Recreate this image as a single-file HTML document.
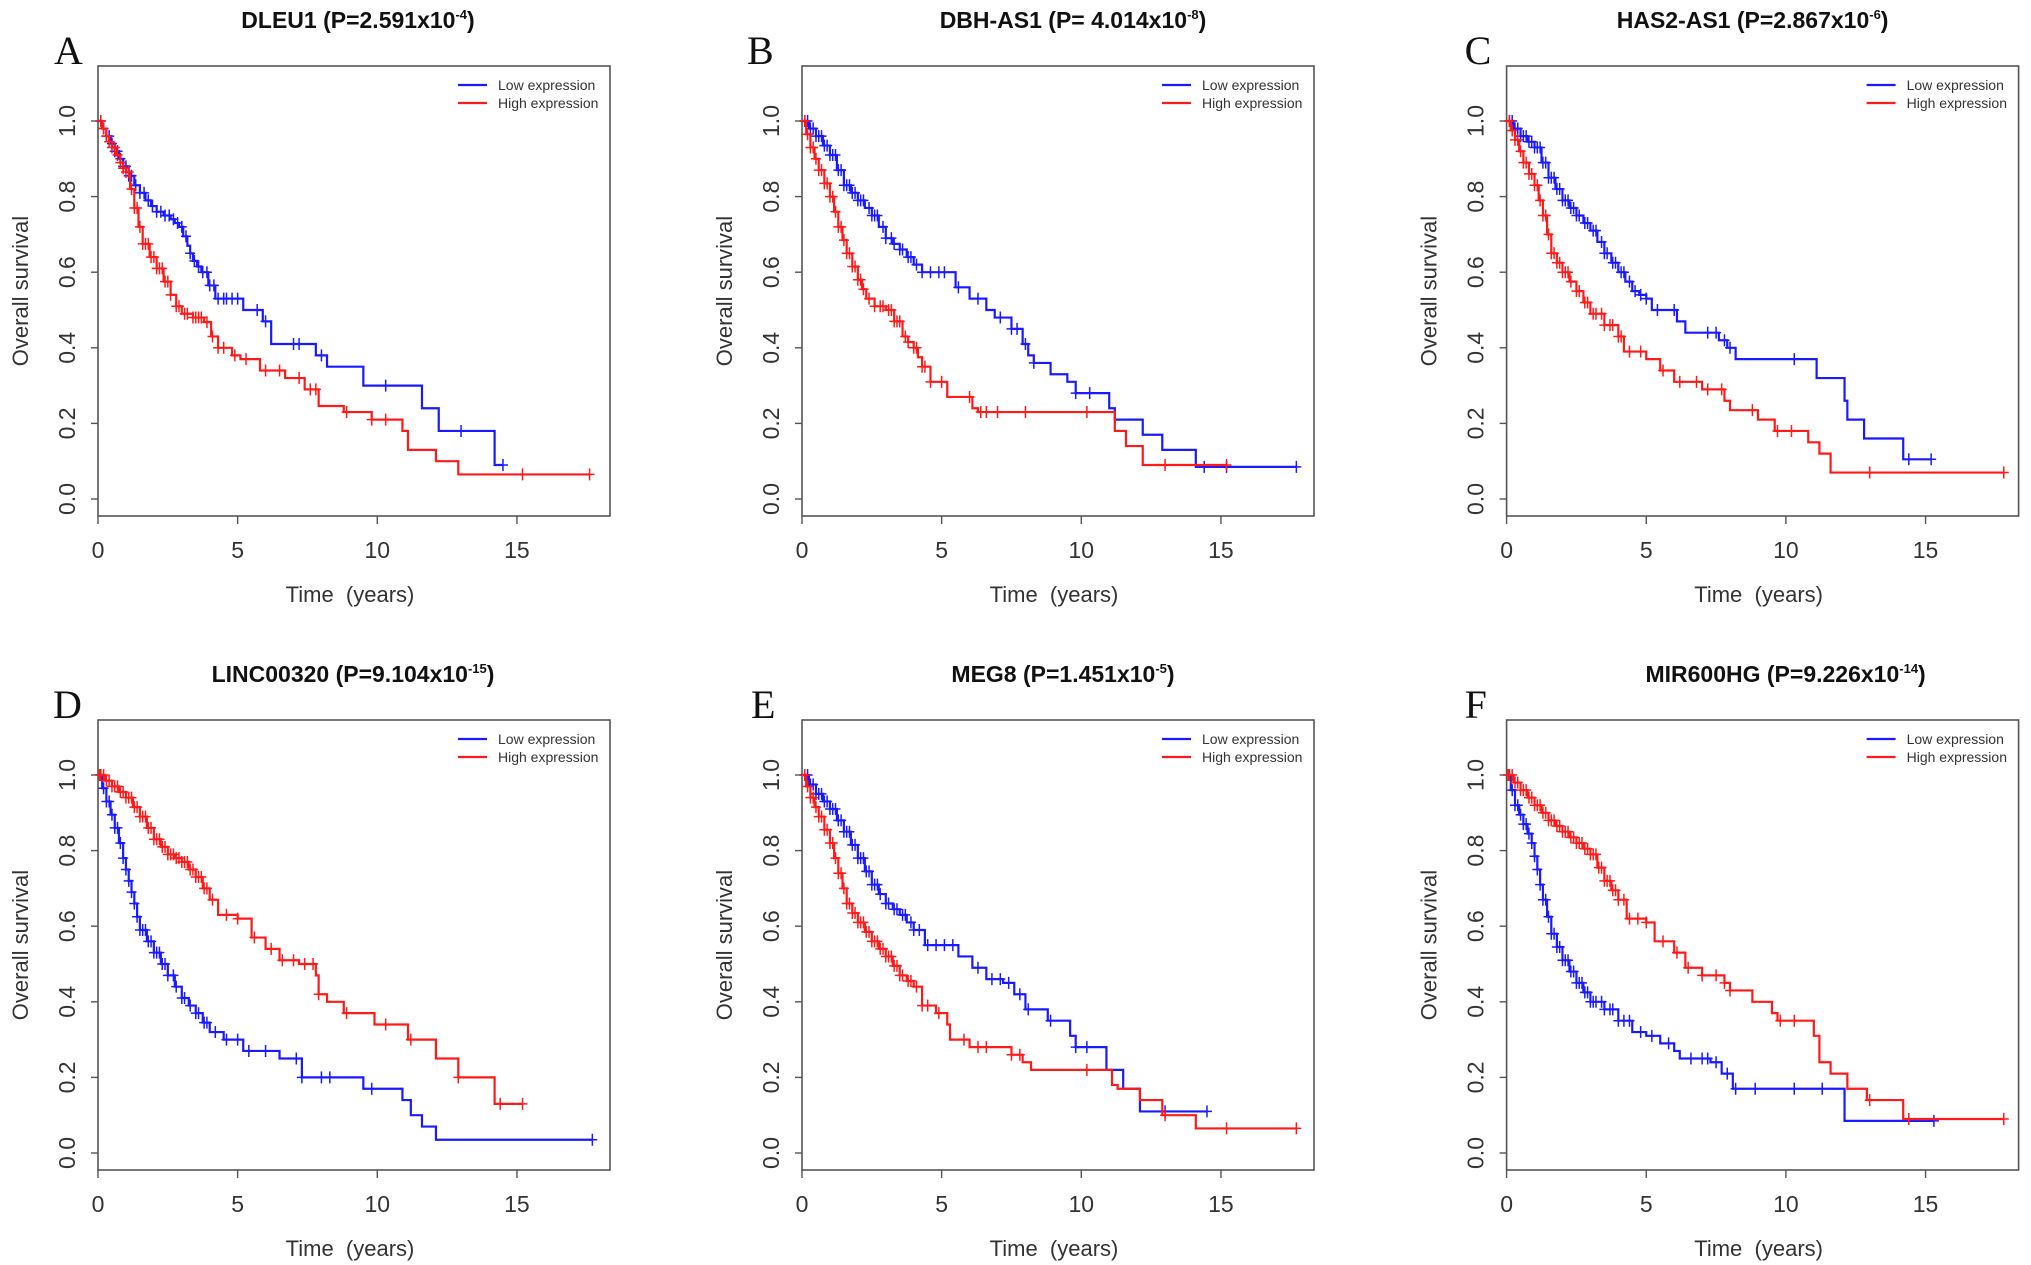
<!DOCTYPE html>
<html><head><meta charset="utf-8"><style>
html,body{margin:0;padding:0;background:#fff;}
svg{display:block;font-family:"Liberation Sans",Arial,sans-serif;}
</style></head><body>
<svg id="fig" width="2031" height="1265" viewBox="0 0 2031 1265" xmlns="http://www.w3.org/2000/svg"></svg>
<script>
// ---- data (time in years, survival probability) ----
const panelLetters = ["A","B","C","D","E","F"];
const panelGenes = ["DLEU1","DBH-AS1","HAS2-AS1","LINC00320","MEG8","MIR600HG"];
const panelPvals = ["2.591x10","4.014x10","2.867x10","9.104x10","1.451x10","9.226x10"];
const panelExps = ["-4","-8","-6","-15","-5","-14"];
const xTicks = [0,5,10,15];
const yTicks = ["0.0","0.2","0.4","0.6","0.8","1.0"];

// Panel A
const aLowT = [0,0.15,0.3,0.45,0.6,0.75,0.9,1.1,1.3,1.5,1.7,1.9,2.1,2.35,2.6,2.75,2.9,3.05,3.2,3.3,3.4,3.55,3.7,3.95,4.2,5.2,5.4,5.9,6.2,7.8,8.2,9.5,11.6,12.2,14.2,14.5];
const aLowS = [1,0.98,0.96,0.94,0.92,0.90,0.88,0.855,0.83,0.81,0.79,0.775,0.76,0.75,0.74,0.73,0.72,0.695,0.67,0.65,0.63,0.615,0.60,0.565,0.53,0.50,0.50,0.47,0.41,0.38,0.35,0.30,0.24,0.18,0.09,0.09];
const aLowC = [0.1,0.2,0.3,0.4,0.5,0.6,0.7,0.8,0.9,1.0,1.1,1.2,1.35,1.5,1.65,1.8,1.95,2.1,2.25,2.4,2.55,2.7,2.85,3.0,3.15,3.3,3.45,3.6,3.75,3.9,4.0,4.15,4.3,4.5,4.6,4.8,5.0,5.7,6.0,7.0,7.2,8.0,10.3,13.0,14.5];
const aHighT = [0,0.15,0.3,0.4,0.5,0.65,0.8,0.9,1.0,1.15,1.3,1.45,1.6,1.85,2.1,2.35,2.6,2.8,3.0,3.4,3.8,4.05,4.3,4.8,5.1,5.8,6.7,7.4,7.9,8.8,9.8,10.9,11.1,12.1,12.9,17.6];
const aHighS = [1,0.98,0.96,0.945,0.93,0.91,0.89,0.875,0.865,0.82,0.77,0.72,0.675,0.64,0.61,0.575,0.54,0.51,0.49,0.48,0.468,0.43,0.40,0.38,0.37,0.34,0.32,0.29,0.246,0.23,0.21,0.18,0.13,0.10,0.065,0.065];
const aHighC = [0.1,0.2,0.3,0.4,0.5,0.6,0.7,0.8,0.9,1.0,1.1,1.2,1.3,1.4,1.5,1.6,1.7,1.8,1.9,2.0,2.1,2.2,2.3,2.4,2.5,2.6,2.8,2.9,3.1,3.2,3.4,3.5,3.6,3.7,3.9,4.1,4.3,4.5,4.9,5.3,6.0,6.5,7.2,7.6,7.8,8.9,9.8,10.3,15.2,17.6];
// Panel B
const bLowT = [0,0.25,0.5,0.75,1,1.25,1.5,1.75,2,2.25,2.5,2.75,3,3.25,3.5,3.75,4,4.3,5.2,5.5,6,6.6,6.9,7.5,7.9,8.1,8.3,8.9,9.5,9.8,11.0,11.2,12.2,12.9,14.1,17.7];
const bLowS = [1,0.98,0.96,0.935,0.91,0.87,0.83,0.81,0.79,0.77,0.75,0.72,0.69,0.675,0.66,0.64,0.62,0.60,0.60,0.56,0.53,0.50,0.48,0.45,0.41,0.38,0.36,0.33,0.31,0.28,0.24,0.21,0.17,0.13,0.085,0.085];
const bLowC = [0.1,0.2,0.3,0.4,0.5,0.6,0.7,0.8,0.9,1.0,1.1,1.2,1.3,1.4,1.5,1.6,1.7,1.8,1.9,2.0,2.1,2.2,2.4,2.5,2.6,2.7,2.9,3.0,3.2,3.3,3.5,3.6,3.8,3.9,4.1,4.3,4.6,4.9,5.1,5.6,6.3,7.1,7.5,7.7,8.0,8.3,9.8,10.3,14.4,15.2,17.7];
const bHighT = [0,0.15,0.3,0.45,0.6,0.8,1,1.15,1.3,1.45,1.6,1.8,2,2.15,2.3,2.6,3,3.3,3.6,3.8,4,4.15,4.3,4.6,5.2,6.1,6.3,11.2,11.6,12.2,15.2];
const bHighS = [1,0.965,0.93,0.90,0.87,0.835,0.80,0.76,0.72,0.685,0.65,0.615,0.58,0.555,0.53,0.51,0.50,0.47,0.43,0.415,0.40,0.375,0.35,0.31,0.27,0.24,0.23,0.18,0.14,0.09,0.09];
const bHighC = [0.1,0.2,0.3,0.4,0.5,0.6,0.7,0.8,0.9,1.0,1.1,1.2,1.3,1.4,1.5,1.6,1.7,1.8,1.9,2.0,2.1,2.2,2.4,2.6,2.8,2.9,3.1,3.2,3.3,3.4,3.5,3.7,3.8,4.0,4.1,4.3,4.4,4.6,5.0,6.0,6.4,6.6,7.0,8.0,10.2,13.0,15.2];
// Panel C
const cLowT = [0,0.25,0.5,0.75,1,1.25,1.5,1.75,2,2.25,2.5,2.75,3,3.25,3.5,3.75,4,4.25,4.5,4.75,5,5.2,6.1,6.4,7.6,7.9,8.2,11.1,12.1,12.2,12.8,14.2,15.2];
const cLowS = [1,0.98,0.96,0.945,0.93,0.89,0.85,0.82,0.79,0.77,0.75,0.73,0.71,0.68,0.65,0.625,0.60,0.575,0.55,0.54,0.53,0.50,0.47,0.44,0.42,0.40,0.37,0.32,0.26,0.21,0.16,0.105,0.105];
const cLowC = [0.1,0.2,0.3,0.4,0.5,0.6,0.7,0.8,0.9,1.0,1.1,1.2,1.3,1.4,1.5,1.6,1.7,1.8,1.9,2.0,2.1,2.2,2.3,2.4,2.5,2.6,2.8,2.9,3.1,3.2,3.4,3.5,3.6,3.8,3.9,4.1,4.2,4.4,4.6,4.8,5.0,5.4,6.0,7.2,7.5,7.8,8.0,10.3,14.4,15.2];
const cHighT = [0,0.15,0.3,0.45,0.6,0.8,1,1.15,1.3,1.45,1.6,1.8,2,2.25,2.5,2.75,3,3.5,4,4.2,5,5.5,6,7,7.8,8,9,9.6,10.8,11.2,11.6,17.8];
const cHighS = [1,0.975,0.95,0.92,0.89,0.86,0.83,0.79,0.75,0.70,0.65,0.625,0.60,0.575,0.55,0.52,0.49,0.46,0.43,0.39,0.37,0.34,0.31,0.29,0.26,0.235,0.21,0.18,0.15,0.12,0.07,0.07];
const cHighC = [0.1,0.2,0.3,0.4,0.5,0.6,0.7,0.8,0.9,1.0,1.1,1.2,1.3,1.4,1.5,1.6,1.7,1.8,1.9,2.0,2.1,2.2,2.3,2.5,2.6,2.8,2.9,3.1,3.2,3.4,3.5,3.7,3.8,4.0,4.1,4.4,4.8,5.6,6.2,6.8,7.2,7.7,8.8,9.7,10.2,13.0,17.8];
// Panel D
const dLowT = [0,0.15,0.3,0.45,0.6,0.75,0.9,1.0,1.1,1.2,1.3,1.4,1.5,1.75,2,2.25,2.5,2.75,3,3.25,3.5,3.75,4,4.5,5.2,6.5,7.3,9.5,10.9,11.2,11.6,12.1,17.7];
const dLowS = [1,0.965,0.93,0.895,0.86,0.82,0.78,0.75,0.72,0.69,0.66,0.625,0.59,0.56,0.53,0.50,0.47,0.44,0.41,0.39,0.37,0.345,0.32,0.30,0.27,0.25,0.20,0.17,0.14,0.10,0.07,0.035,0.035];
const dLowC = [0.1,0.2,0.3,0.4,0.5,0.6,0.7,0.8,0.9,1.0,1.1,1.2,1.3,1.4,1.5,1.6,1.7,1.8,1.9,2.0,2.1,2.2,2.3,2.4,2.5,2.7,2.8,3.0,3.1,3.3,3.5,3.6,3.8,3.9,4.2,4.6,5.0,5.4,6.0,7.1,7.3,8.0,8.3,9.8,17.7];
const dHighT = [0,0.25,0.5,0.75,1,1.25,1.5,1.75,2,2.25,2.5,2.75,3,3.25,3.5,3.75,4,4.3,5,5.5,6,6.5,7.2,7.8,7.9,8.2,8.8,9.9,11.1,12.1,12.9,14.2,15.2];
const dHighS = [1,0.985,0.97,0.955,0.94,0.915,0.89,0.86,0.83,0.81,0.79,0.78,0.77,0.75,0.73,0.70,0.67,0.63,0.62,0.57,0.54,0.51,0.50,0.47,0.42,0.40,0.37,0.34,0.30,0.25,0.20,0.13,0.13];
const dHighC = [0.05,0.1,0.2,0.3,0.4,0.5,0.6,0.7,0.8,0.9,1.0,1.1,1.2,1.3,1.4,1.5,1.6,1.7,1.8,1.9,2.0,2.1,2.2,2.3,2.4,2.5,2.6,2.7,2.8,2.9,3.0,3.1,3.2,3.3,3.4,3.5,3.6,3.7,3.8,3.9,4.1,4.6,5.0,5.6,6.2,6.6,7.0,7.4,7.7,7.9,8.9,10.3,11.2,12.9,14.4,15.2];
// Panel E
const eLowT = [0,0.25,0.5,0.75,1,1.25,1.5,1.75,2,2.25,2.5,2.75,3,3.25,3.5,3.75,4,4.4,5.4,5.6,6.1,6.6,7.2,7.6,8,8.8,9.6,9.8,10.9,11.5,12.1,14.5];
const eLowS = [1,0.975,0.95,0.93,0.91,0.88,0.85,0.815,0.78,0.745,0.71,0.685,0.66,0.645,0.63,0.61,0.59,0.55,0.55,0.52,0.49,0.46,0.45,0.42,0.38,0.35,0.31,0.28,0.22,0.17,0.11,0.11];
const eLowC = [0.1,0.2,0.3,0.4,0.5,0.6,0.7,0.8,0.9,1.0,1.1,1.2,1.3,1.4,1.5,1.6,1.7,1.8,1.9,2.0,2.1,2.2,2.3,2.4,2.5,2.6,2.7,2.8,3.0,3.1,3.3,3.4,3.6,3.7,3.9,4.0,4.2,4.5,4.8,5.1,5.4,6.3,6.8,7.1,7.4,7.8,8.1,8.9,9.8,10.2,13.0,14.5];
const eHighT = [0,0.15,0.3,0.45,0.6,0.8,1,1.15,1.3,1.45,1.6,1.8,2,2.25,2.5,2.75,3,3.25,3.5,3.75,4,4.3,4.8,5.2,5.3,6,7.5,7.9,8.2,11.1,11.3,12.1,12.9,14.1,17.7];
const eHighS = [1,0.97,0.94,0.915,0.89,0.855,0.82,0.78,0.74,0.70,0.66,0.635,0.61,0.585,0.56,0.54,0.52,0.495,0.47,0.455,0.44,0.39,0.37,0.34,0.30,0.28,0.26,0.24,0.22,0.18,0.17,0.14,0.10,0.065,0.065];
const eHighC = [0.1,0.2,0.3,0.4,0.5,0.6,0.7,0.8,0.9,1.0,1.1,1.2,1.3,1.4,1.5,1.6,1.7,1.8,1.9,2.0,2.1,2.2,2.3,2.4,2.5,2.6,2.7,2.8,2.9,3.0,3.1,3.2,3.3,3.4,3.5,3.6,3.8,3.9,4.1,4.3,4.5,4.9,5.8,6.3,6.6,7.5,7.8,10.2,13.0,15.2,17.7];
// Panel F
const fLowT = [0,0.15,0.3,0.45,0.6,0.75,0.9,1.0,1.1,1.2,1.3,1.45,1.6,1.8,2,2.25,2.5,2.75,3,3.5,4,4.5,5,5.5,6,6.2,7.3,7.7,8.1,12.1,15.3];
const fLowS = [1,0.96,0.92,0.895,0.87,0.845,0.82,0.785,0.75,0.71,0.67,0.625,0.58,0.545,0.51,0.48,0.45,0.425,0.40,0.38,0.35,0.32,0.31,0.29,0.27,0.25,0.24,0.21,0.17,0.085,0.085];
const fLowC = [0.1,0.2,0.3,0.4,0.5,0.6,0.7,0.8,0.9,1.0,1.1,1.2,1.3,1.4,1.5,1.6,1.7,1.8,1.9,2.0,2.1,2.2,2.3,2.4,2.5,2.6,2.7,2.8,2.9,3.0,3.1,3.2,3.4,3.5,3.7,3.8,4.0,4.2,4.4,4.8,5.2,5.8,6.6,7.0,7.2,7.5,7.9,8.2,8.9,10.3,11.3,15.3];
const fHighT = [0,0.25,0.5,0.75,1,1.25,1.5,1.75,2,2.25,2.5,2.75,3,3.25,3.5,3.75,4,4.3,5,5.3,6,6.4,7,7.8,8,8.8,9.5,9.7,11,11.2,11.6,12.2,12.9,14.2,17.8];
const fHighS = [1,0.98,0.96,0.94,0.92,0.90,0.88,0.865,0.85,0.835,0.82,0.805,0.79,0.755,0.72,0.695,0.67,0.62,0.61,0.56,0.53,0.49,0.47,0.45,0.43,0.40,0.37,0.35,0.31,0.24,0.21,0.17,0.14,0.09,0.09];
const fHighC = [0.05,0.1,0.2,0.3,0.4,0.5,0.6,0.7,0.8,0.9,1.0,1.1,1.2,1.3,1.4,1.5,1.6,1.7,1.8,1.9,2.0,2.1,2.2,2.3,2.4,2.5,2.6,2.7,2.8,2.9,3.0,3.1,3.2,3.3,3.4,3.5,3.6,3.7,3.8,3.9,4.0,4.2,4.4,4.7,5.0,5.6,6.1,6.5,7.0,7.5,7.8,8.0,9.8,10.3,13.0,14.4,17.8];

const lowT=[aLowT,bLowT,cLowT,dLowT,eLowT,fLowT];
const lowS=[aLowS,bLowS,cLowS,dLowS,eLowS,fLowS];
const lowC=[aLowC,bLowC,cLowC,dLowC,eLowC,fLowC];
const highT=[aHighT,bHighT,cHighT,dHighT,eHighT,fHighT];
const highS=[aHighS,bHighS,cHighS,dHighS,eHighS,fHighS];
const highC=[aHighC,bHighC,cHighC,dHighC,eHighC,fHighC];

// ---- layout ----
const colX=[0,704,1408.6], rowY=[0,654];
const titleCX=[358,369,344,353,359,377];
const letterX=[54,43,56,53,47,56];
const BOX={l:98,r:610,t:66,b:516};
const NS="http://www.w3.org/2000/svg";
const svg=document.getElementById('fig');
function mk(tag,attrs,parent){const e=document.createElementNS(NS,tag);for(const k in attrs)e.setAttribute(k,attrs[k]);parent.appendChild(e);return e;}
function survAt(T,S,t){let s=S[0];for(let i=0;i<T.length;i++){if(T[i]<=t)s=S[i];else break;}return s;}

for(let p=0;p<6;p++){
  const ox=colX[p%3], oy=rowY[Math.floor(p/3)];
  const g=mk('g',{transform:`translate(${ox},${oy})`},svg);
  
  
  const xs=t=>BOX.l+t*27.93;
  const ys=s=>499-s*378;
  const ti=mk('text',{x:titleCX[p],y:28,'text-anchor':'middle','font-size':23,'font-weight':'bold',fill:'#111'},g);
  
  
  ti.appendChild(document.createTextNode(panelGenes[p]+' (P='+(p===1?' ':'')+panelPvals[p]));
  const sup=mk('tspan',{dy:-9,'font-size':13},ti);sup.textContent=panelExps[p];
  const cl=mk('tspan',{dy:9},ti);cl.textContent=')';
  const le=mk('text',{x:letterX[p],y:64,'font-size':40,'font-family':'"Liberation Serif",serif',fill:'#111'},g);
  
  
  le.textContent=panelLetters[p];
  const bx=mk('rect',{x:BOX.l,y:BOX.t,width:BOX.r-BOX.l,height:BOX.b-BOX.t,fill:'none',stroke:'#555','stroke-width':1.6},g);
  
  
  xTicks.forEach(v=>{
    const tk=mk('line',{x1:xs(v),x2:xs(v),y1:BOX.b,y2:BOX.b+8,stroke:'#555','stroke-width':1.4},g);
    
    
    const tl=mk('text',{x:xs(v),y:558,'text-anchor':'middle','font-size':23,fill:'#333'},g);
    
    
    tl.textContent=v;
  });
  yTicks.forEach(v=>{
    const y=ys(parseFloat(v));
    const tk=mk('line',{x1:BOX.l-7,x2:BOX.l,y1:y,y2:y,stroke:'#555','stroke-width':1.4},g);
    
    
    const tl=mk('text',{x:0,y:0,'text-anchor':'middle','font-size':23,fill:'#333',transform:`translate(75,${y}) rotate(-90)`},g);
    
    
    tl.textContent=v;
  });
  const xt=mk('text',{x:350,y:602,'text-anchor':'middle','font-size':22,fill:'#333'},g);
  
  
  xt.textContent='Time\u00a0\u00a0(years)';
  const yt=mk('text',{x:0,y:0,'text-anchor':'middle','font-size':22,fill:'#333',transform:'translate(28,291) rotate(-90)'},g);
  
  
  yt.textContent='Overall survival';
  [['Low expression','#1a1aff',85],['High expression','#ff1a1a',103]].forEach(([lab,col,y])=>{
    const ll=mk('line',{x1:458,x2:487,y1:y,y2:y,stroke:col,'stroke-width':2.2},g);
    
    
    const lt=mk('text',{x:498,y:y+5,'font-size':14,fill:'#333'},g);
    
    
    lt.textContent=lab;
  });
  [[lowT[p],lowS[p],lowC[p],'#1a1aff','low-expression-curve'],[highT[p],highS[p],highC[p],'#ff1a1a','high-expression-curve']].forEach(([T,S,C,col,nm])=>{
    let d='M'+xs(T[0])+','+ys(S[0]);
    for(let i=1;i<T.length;i++){d+=' H'+xs(T[i])+' V'+ys(S[i]);}
    const pa=mk('path',{d:d,fill:'none',stroke:col,'stroke-width':2.2},g);
    
    
    let cd='';
    C.forEach(t=>{const x=xs(t),y=ys(survAt(T,S,t));cd+=`M${x-5},${y}H${x+5}M${x},${y-6}V${y+6}`;});
    const cm=mk('path',{d:cd,fill:'none',stroke:col,'stroke-width':1.5},g);
    
    
  });
}
</script>
</body></html>
